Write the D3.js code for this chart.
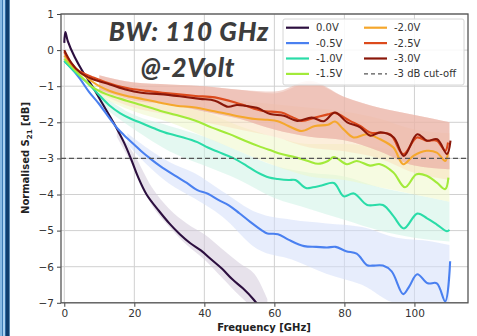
<!DOCTYPE html>
<html>
<head>
<meta charset="utf-8">
<script src="https://cdn.jsdelivr.net/npm/d3@7"></script>
<style>
  html, body { margin: 0; padding: 0; background: #fff; }
  svg { display: block; }
</style>
</head>
<body>
<svg id="chart" width="477" height="336"></svg>
<script>
// Smoothed S21 traces, [GHz, dB]
const v0_0 = [[0,0.2],[0.3,0.5],[1,0.25],[3,-0.2],[5,-0.55],[8,-1.0],[11,-1.5],[14,-2.0],[17,-2.55],[19,-3.0],[21,-3.5],[23.5,-4.0],[27,-4.45],[30,-4.8],[33,-5.1],[36,-5.35],[39,-5.55],[42,-5.8],[45,-6.05],[48,-6.35],[51,-6.6],[54,-6.9],[56,-7.15]];
const v0_5 = [[0,-0.3],[2,-0.5],[4.5,-0.8],[7,-1.15],[10,-1.5],[13,-1.9],[15,-2.15],[17,-2.35],[20,-2.62],[22,-2.8],[24.5,-3.0],[27.5,-3.22],[32,-3.5],[35,-3.68],[38,-3.88],[41,-3.98],[44,-4.15],[47,-4.3],[50,-4.52],[53,-4.75],[56.5,-5.0],[58,-5.08],[61,-5.1],[64,-5.25],[68.5,-5.43],[72,-5.45],[75,-5.47],[77.5,-5.45],[80.5,-5.57],[83.5,-5.64],[86.5,-5.96],[88,-5.97],[91,-5.97],[93.5,-6.13],[96.8,-6.76],[98.5,-6.55],[100.8,-6.21],[103.8,-6.46],[106.4,-6.46],[108.8,-6.96],[110.2,-5.85]];
const v1_0 = [[0,-0.3],[3,-0.6],[6.5,-0.9],[10,-1.25],[13,-1.54],[16,-1.75],[19,-1.9],[22.5,-2.04],[26,-2.18],[30,-2.32],[34,-2.42],[38,-2.55],[41,-2.7],[44,-2.82],[48,-2.98],[52,-3.2],[55,-3.38],[58.5,-3.53],[61,-3.57],[64,-3.6],[66,-3.6],[69,-3.82],[71,-3.8],[73.5,-3.75],[77,-3.68],[79.8,-4.05],[82.7,-3.97],[86.5,-4.29],[91,-4.29],[94,-4.6],[97,-4.94],[100.8,-4.53],[103.6,-4.66],[106.5,-4.84],[109.3,-5.02],[110,-4.98]];
const v1_5 = [[0,-0.24],[3,-0.55],[5.5,-0.8],[8.3,-1.04],[12,-1.22],[17.8,-1.4],[22,-1.52],[27.3,-1.68],[32,-1.8],[37.5,-1.96],[42,-2.14],[47,-2.32],[51.6,-2.51],[55.5,-2.66],[59.3,-2.79],[62,-2.88],[66,-2.97],[69.6,-3.07],[72.5,-3.15],[75.3,-3.07],[77,-2.96],[80.7,-3.16],[83.5,-3.07],[87.3,-3.2],[90.2,-3.16],[94,-3.39],[97.3,-3.8],[100.6,-3.44],[103.5,-3.48],[106.4,-3.67],[108.8,-3.85],[109.7,-3.53]];
const v2_0 = [[0,-0.15],[3,-0.48],[6.4,-0.76],[10,-1.0],[13,-1.13],[17,-1.25],[22.6,-1.36],[27,-1.45],[32,-1.54],[37.5,-1.59],[42,-1.68],[46.8,-1.77],[50,-1.84],[54.5,-1.91],[58,-1.93],[61,-1.97],[64,-2.1],[67.8,-2.24],[71.6,-2.1],[75.3,-2.07],[77.3,-1.98],[79.7,-2.19],[82.6,-2.42],[86.4,-2.33],[90.2,-2.47],[94,-2.7],[96.8,-3.16],[99.7,-2.93],[103.5,-2.79],[106.4,-2.84],[108.8,-3.07],[109.6,-2.84]];
const v2_5 = [[0,-0.05],[1.5,-0.3],[3.5,-0.53],[8.3,-0.76],[15,-0.99],[19,-1.07],[23.5,-1.13],[28,-1.18],[32,-1.22],[37.5,-1.27],[43,-1.31],[48.8,-1.45],[52,-1.55],[56.4,-1.68],[62,-1.73],[65,-1.85],[67.8,-1.96],[71.6,-1.87],[75.3,-1.78],[77.3,-1.74],[81.6,-1.96],[84.5,-2.1],[87.3,-2.28],[93,-2.33],[96.8,-2.88],[100.7,-2.42],[103.5,-2.51],[106.4,-2.51],[108.8,-2.79],[109.6,-2.56]];
const v3_0 = [[0,0.0],[2,-0.35],[4.5,-0.62],[8,-0.8],[13,-0.95],[17.8,-1.1],[22,-1.18],[27.3,-1.22],[33,-1.28],[38.8,-1.35],[43,-1.4],[46.8,-1.57],[49.3,-1.52],[51.6,-1.54],[55,-1.6],[58.8,-1.77],[62.7,-1.82],[66.5,-1.96],[70.7,-1.87],[74.1,-1.97],[77.3,-1.73],[80.8,-2.0],[84.5,-2.14],[87.4,-2.37],[90.3,-2.28],[94.1,-2.42],[97,-2.93],[100.8,-2.33],[103.6,-2.51],[106.5,-2.47],[109.3,-2.88],[110.3,-2.51]];

// Spread of the raw (noisy) measurement, [GHz, low dB, high dB]
const raw0_0 = [[15,-2.4,-2.2],[20,-3.3,-2.9],[25,-4.3,-3.8],[30,-4.9,-4.4],[35,-5.4,-4.8],[40,-5.8,-5.1],[45,-6.3,-5.5],[50,-6.8,-5.9],[55,-7.2,-6.3],[58,-7.3,-6.9]];
const raw0_5 = [[18,-2.6,-2.3],[25,-3.3,-2.8],[30,-3.7,-3.1],[37,-4.1,-3.4],[45,-4.6,-3.9],[55,-5.5,-4.5],[65,-5.8,-4.7],[75,-6.2,-4.8],[85,-6.5,-4.9],[95,-7.0,-5.2],[105,-7.0,-5.3],[110,-7.0,-5.4]];
const raw1_0 = [[10,-1.5,-1.2],[20,-2.2,-1.8],[30,-2.8,-2.1],[40,-3.2,-2.4],[50,-3.6,-2.8],[60,-4.1,-3.2],[70,-4.4,-3.4],[80,-4.7,-3.5],[90,-5.0,-3.8],[100,-5.2,-4.0],[110,-5.3,-4.2]];
const raw1_5 = [[10,-1.3,-1.0],[20,-1.7,-1.3],[30,-2.0,-1.5],[40,-2.4,-1.7],[50,-2.8,-2.1],[60,-3.2,-2.4],[70,-3.5,-2.6],[80,-3.6,-2.6],[90,-3.8,-2.7],[100,-4.0,-2.9],[110,-4.2,-3.0]];
const raw2_0 = [[10,-1.2,-0.9],[20,-1.6,-1.1],[30,-1.8,-1.3],[40,-2.0,-1.3],[50,-2.2,-1.4],[60,-2.4,-1.5],[70,-2.7,-1.6],[80,-2.8,-1.7],[90,-3.0,-1.9],[100,-3.4,-2.2],[110,-3.6,-2.3]];
const raw2_5 = [[10,-1.1,-0.7],[20,-1.4,-0.9],[30,-1.5,-0.95],[40,-1.7,-1.0],[50,-1.9,-1.1],[60,-2.2,-1.2],[70,-2.4,-0.9],[80,-2.5,-1.3],[90,-2.8,-1.6],[100,-3.2,-1.8],[110,-3.3,-2.0]];
const raw3_0 = [[10,-1.1,-0.7],[20,-1.35,-0.9],[30,-1.5,-0.95],[40,-1.7,-1.0],[50,-1.9,-1.1],[60,-2.2,-1.15],[70,-2.4,-0.85],[80,-2.5,-1.3],[90,-2.8,-1.6],[100,-3.2,-1.8],[110,-3.3,-2.0]];

const labels = ["0.0V", "-0.5V", "-1.0V", "-1.5V", "-2.0V", "-2.5V", "-3.0V"];
const colors = ["#2c0f3f", "#4a80f0", "#2adca8", "#a2ea3a", "#f5a72c", "#dc4a1c", "#8a1709"];
const bandColors = ["#d3cbdb", "#d3def9", "#cdf3e6", "#eef8c9", "#fae0bd", "#efbcae", "#eab3a6"];
const smooth = [v0_0, v0_5, v1_0, v1_5, v2_0, v2_5, v3_0];
const raw = [raw0_0, raw0_5, raw1_0, raw1_5, raw2_0, raw2_5, raw3_0];

const xTicks = [0, 20, 40, 60, 80, 100];
const yTicks = [1, 0, -1, -2, -3, -4, -5, -6, -7];
const cutoff = -3;

const svg = d3.select("#chart");
const W = 477, H = 336;
const plot = { left: 61, right: 468, top: 14, bottom: 302.8 };

const x = d3.scaleLinear().domain([-0.94, 115.3]).range([plot.left, plot.right]);
const y = d3.scaleLinear().domain([-7, 1]).range([plot.bottom, plot.top]);

svg.append("rect").attr("width", W).attr("height", H).attr("fill", "#fff");

// slide border stripes on the left
const stripes = [[0, 2, "#86b9e3"], [2, 3, "#3f7db5"], [3, 5, "#a9d1f0"], [5, 6, "#2e6ba3"], [6, 9, "#0e3d6c"], [9, 10, "#5b87ad"]];
svg.append("g").selectAll("rect").data(stripes).join("rect")
    .attr("x", d => d[0]).attr("width", d => d[1] - d[0])
    .attr("y", 0).attr("height", H).attr("fill", d => d[2]);

svg.append("defs").append("clipPath").attr("id", "clip")
    .append("rect")
    .attr("x", plot.left).attr("y", plot.top)
    .attr("width", plot.right - plot.left).attr("height", plot.bottom - plot.top);

// grid
const grid = svg.append("g").attr("stroke", "#d0d0d0").attr("stroke-width", 1);
grid.selectAll("line.gx").data(xTicks).join("line")
    .attr("x1", d => x(d)).attr("x2", d => x(d))
    .attr("y1", plot.top).attr("y2", plot.bottom);
grid.selectAll("line.gy").data(yTicks).join("line")
    .attr("x1", plot.left).attr("x2", plot.right)
    .attr("y1", d => y(d)).attr("y2", d => y(d));

const inner = svg.append("g").attr("clip-path", "url(#clip)");

// raw data spread
const area = d3.area()
    .x(d => x(d[0])).y0(d => y(d[1])).y1(d => y(d[2]))
    .curve(d3.curveMonotoneX);
inner.append("g").selectAll("path").data(raw).join("path")
    .attr("d", area)
    .attr("fill", (d, i) => bandColors[i])
    .attr("opacity", 0.55);

// title
const title = svg.append("g")
    .attr("font-family", "Lato, 'Open Sans', sans-serif")
    .attr("font-weight", 900)
    .attr("font-style", "italic")
    .attr("font-size", 26)
    .attr("letter-spacing", 0.8)
    .attr("fill", "#3d3d3d")
    .attr("text-anchor", "middle");
title.append("text").attr("x", 189).attr("y", 41).text("BW: 110 GHz");
title.append("text").attr("x", 188).attr("y", 77).text("@-2Volt");

// cut-off line
svg.append("line")
    .attr("x1", plot.left).attr("x2", plot.right)
    .attr("y1", y(cutoff)).attr("y2", y(cutoff))
    .attr("stroke", "#555").attr("stroke-width", 1.3)
    .attr("stroke-dasharray", "5,3");

// smoothed traces
const line = d3.line().x(d => x(d[0])).y(d => y(d[1])).curve(d3.curveCatmullRom.alpha(0.5));
inner.append("g").attr("fill", "none").attr("stroke-width", 2.1)
    .attr("stroke-linejoin", "round")
    .selectAll("path").data(smooth).join("path")
    .attr("d", line)
    .attr("stroke", (d, i) => colors[i]);

// axes
const tickFont = "'DejaVu Sans', sans-serif";
const xAxis = svg.append("g")
    .attr("transform", `translate(0,${plot.bottom})`)
    .call(d3.axisBottom(x).tickValues(xTicks).tickSize(4).tickPadding(3).tickFormat(d3.format("d")));
const yAxis = svg.append("g")
    .attr("transform", `translate(${plot.left},0)`)
    .call(d3.axisLeft(y).tickValues(yTicks).tickSize(4).tickPadding(3)
        .tickFormat(d => d < 0 ? "\u2212" + Math.abs(d) : d));
[xAxis, yAxis].forEach(a => {
    a.select(".domain").remove();
    a.selectAll(".tick line").attr("stroke", "#444");
    a.selectAll(".tick text").attr("font-family", tickFont).attr("font-size", 10.5).attr("fill", "#333");
});

// frame
svg.append("rect")
    .attr("x", plot.left).attr("y", plot.top)
    .attr("width", plot.right - plot.left).attr("height", plot.bottom - plot.top)
    .attr("fill", "none").attr("stroke", "#555").attr("stroke-width", 1.3);

// axis labels
svg.append("text")
    .attr("x", 264).attr("y", 331)
    .attr("text-anchor", "middle")
    .attr("font-family", tickFont).attr("font-weight", "bold").attr("font-size", 10)
    .attr("fill", "#222")
    .text("Frequency [GHz]");

const yl = svg.append("text")
    .attr("transform", "translate(29,158) rotate(-90)")
    .attr("text-anchor", "middle")
    .attr("font-family", tickFont).attr("font-weight", "bold").attr("font-size", 10)
    .attr("fill", "#222");
yl.append("tspan").text("Normalised S");
yl.append("tspan").attr("font-size", 7).attr("dy", 2.5).text("21");
yl.append("tspan").attr("dy", -2.5).text(" [dB]");

// legend
const legend = svg.append("g").attr("font-family", tickFont).attr("font-size", 10).attr("fill", "#333");
legend.append("rect")
    .attr("x", 283).attr("y", 19).attr("width", 181).attr("height", 66).attr("rx", 2)
    .attr("fill", "#fff").attr("fill-opacity", 0.85)
    .attr("stroke", "#d6d6d6");
const entries = labels.map((l, i) => ({ label: l, color: colors[i], dash: null }))
    .concat([{ label: "-3 dB cut-off", color: "#555", dash: "4,3" }]);
const item = legend.selectAll("g.item").data(entries).join("g")
    .attr("transform", (d, i) => `translate(${i < 4 ? 286 : 364},${27.7 + (i % 4) * 15.4})`);
item.append("line")
    .attr("x1", 0).attr("x2", 23)
    .attr("stroke", d => d.color)
    .attr("stroke-width", d => d.dash ? 1.3 : 2.2)
    .attr("stroke-dasharray", d => d.dash);
item.append("text")
    .attr("x", 30).attr("dy", "0.35em")
    .text(d => d.label);
</script>
</body>
</html>
